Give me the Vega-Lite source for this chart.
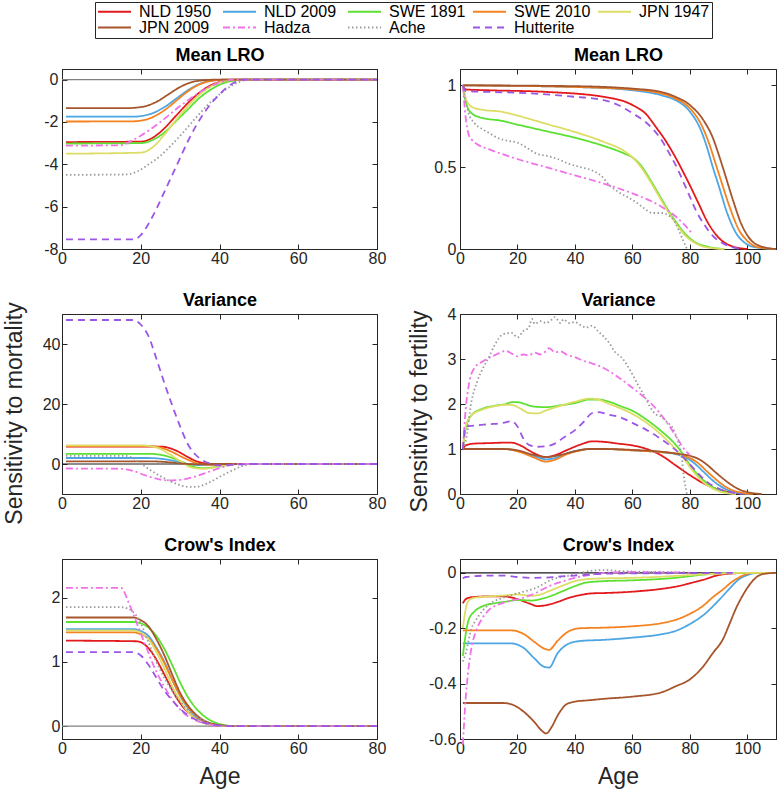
{
"$schema":"https://vega.github.io/schema/vega-lite/v6.json",
"padding":{"left":2,"top":1,"right":0,"bottom":0},
"config":{
"locale":{"number":{"decimal":".","thousands":",","grouping":[3],"currency":["$",""],"minus":"-"}},
"view":{"stroke":"#262626","strokeWidth":1},
"font":"Liberation Sans",
"axis":{"labelFont":"Liberation Sans","labelFontSize":16,"labelColor":"#262626","tickColor":"#262626","domainColor":"#262626","tickSize":-5,"labelPadding":6,"labelFlush":false,"grid":false,"titleFont":"Liberation Sans","titleFontSize":23,"titleFontWeight":"normal","titleColor":"#262626","labelExpr":"'' + datum.value"},
"line":{"strokeWidth":1.8,"interpolate":"monotone","clip":true}
},
"columns":2,
"bounds":"flush",
"spacing":{"row":65,"column":83},
"resolve":{"scale":{"x":"independent","y":"independent","color":"shared","strokeDash":"shared"}},
"datasets":{
"p1":[
{"s":"NLD 1950","a":1,"v":-2.95},{"s":"NLD 1950","a":20,"v":-2.93},{"s":"NLD 1950","a":23,"v":-2.75},{"s":"NLD 1950","a":26,"v":-2.3},{"s":"NLD 1950","a":29,"v":-1.7},{"s":"NLD 1950","a":32,"v":-1.1},{"s":"NLD 1950","a":35,"v":-0.6},{"s":"NLD 1950","a":38,"v":-0.25},{"s":"NLD 1950","a":41,"v":-0.07},{"s":"NLD 1950","a":44,"v":0},{"s":"NLD 1950","a":80,"v":0},
{"s":"NLD 2009","a":1,"v":-1.75},{"s":"NLD 2009","a":18,"v":-1.75},{"s":"NLD 2009","a":22,"v":-1.65},{"s":"NLD 2009","a":26,"v":-1.3},{"s":"NLD 2009","a":29,"v":-0.9},{"s":"NLD 2009","a":32,"v":-0.5},{"s":"NLD 2009","a":35,"v":-0.2},{"s":"NLD 2009","a":38,"v":-0.05},{"s":"NLD 2009","a":42,"v":0},{"s":"NLD 2009","a":80,"v":0},
{"s":"SWE 1891","a":1,"v":-3.02},{"s":"SWE 1891","a":20,"v":-3},{"s":"SWE 1891","a":23,"v":-2.85},{"s":"SWE 1891","a":26,"v":-2.5},{"s":"SWE 1891","a":29,"v":-1.95},{"s":"SWE 1891","a":32,"v":-1.4},{"s":"SWE 1891","a":35,"v":-0.85},{"s":"SWE 1891","a":38,"v":-0.45},{"s":"SWE 1891","a":41,"v":-0.17},{"s":"SWE 1891","a":44,"v":-0.04},{"s":"SWE 1891","a":47,"v":0},{"s":"SWE 1891","a":80,"v":0},
{"s":"SWE 2010","a":1,"v":-1.98},{"s":"SWE 2010","a":18,"v":-1.97},{"s":"SWE 2010","a":22,"v":-1.85},{"s":"SWE 2010","a":26,"v":-1.45},{"s":"SWE 2010","a":29,"v":-1},{"s":"SWE 2010","a":32,"v":-0.55},{"s":"SWE 2010","a":35,"v":-0.22},{"s":"SWE 2010","a":38,"v":-0.06},{"s":"SWE 2010","a":42,"v":0},{"s":"SWE 2010","a":80,"v":0},
{"s":"JPN 1947","a":1,"v":-3.5},{"s":"JPN 1947","a":20,"v":-3.45},{"s":"JPN 1947","a":23,"v":-3.2},{"s":"JPN 1947","a":26,"v":-2.6},{"s":"JPN 1947","a":29,"v":-1.9},{"s":"JPN 1947","a":32,"v":-1.25},{"s":"JPN 1947","a":35,"v":-0.7},{"s":"JPN 1947","a":38,"v":-0.3},{"s":"JPN 1947","a":41,"v":-0.08},{"s":"JPN 1947","a":44,"v":0},{"s":"JPN 1947","a":80,"v":0},
{"s":"JPN 2009","a":1,"v":-1.35},{"s":"JPN 2009","a":16,"v":-1.35},{"s":"JPN 2009","a":20,"v":-1.3},{"s":"JPN 2009","a":24,"v":-1.05},{"s":"JPN 2009","a":27,"v":-0.7},{"s":"JPN 2009","a":30,"v":-0.35},{"s":"JPN 2009","a":33,"v":-0.12},{"s":"JPN 2009","a":36,"v":-0.03},{"s":"JPN 2009","a":40,"v":0},{"s":"JPN 2009","a":80,"v":0},
{"s":"Hadza","a":1,"v":-3.12},{"s":"Hadza","a":15,"v":-3.1},{"s":"Hadza","a":17,"v":-2.95},{"s":"Hadza","a":20,"v":-2.65},{"s":"Hadza","a":25,"v":-2},{"s":"Hadza","a":30,"v":-1.25},{"s":"Hadza","a":35,"v":-0.6},{"s":"Hadza","a":40,"v":-0.15},{"s":"Hadza","a":44,"v":0},{"s":"Hadza","a":80,"v":0},
{"s":"Ache","a":1,"v":-4.5},{"s":"Ache","a":16,"v":-4.48},{"s":"Ache","a":19,"v":-4.35},{"s":"Ache","a":22,"v":-4},{"s":"Ache","a":25,"v":-3.6},{"s":"Ache","a":28,"v":-3.05},{"s":"Ache","a":31,"v":-2.45},{"s":"Ache","a":34,"v":-1.8},{"s":"Ache","a":37,"v":-1.2},{"s":"Ache","a":40,"v":-0.7},{"s":"Ache","a":43,"v":-0.3},{"s":"Ache","a":46,"v":-0.05},{"s":"Ache","a":48,"v":0},{"s":"Ache","a":80,"v":0},
{"s":"Hutterite","a":1,"v":-7.55},{"s":"Hutterite","a":18,"v":-7.55},{"s":"Hutterite","a":20,"v":-7.35},{"s":"Hutterite","a":22,"v":-6.8},{"s":"Hutterite","a":24,"v":-6.1},{"s":"Hutterite","a":26,"v":-5.3},{"s":"Hutterite","a":28,"v":-4.5},{"s":"Hutterite","a":30,"v":-3.7},{"s":"Hutterite","a":32,"v":-2.9},{"s":"Hutterite","a":34,"v":-2.2},{"s":"Hutterite","a":36,"v":-1.6},{"s":"Hutterite","a":38,"v":-1.1},{"s":"Hutterite","a":40,"v":-0.7},{"s":"Hutterite","a":42,"v":-0.35},{"s":"Hutterite","a":44,"v":-0.12},{"s":"Hutterite","a":46,"v":0},{"s":"Hutterite","a":80,"v":0}
],
"p2":[
{"s":"NLD 1950","a":1,"v":1},{"s":"NLD 1950","a":2,"v":0.975},{"s":"NLD 1950","a":10,"v":0.97},{"s":"NLD 1950","a":30,"v":0.96},{"s":"NLD 1950","a":50,"v":0.93},{"s":"NLD 1950","a":60,"v":0.88},{"s":"NLD 1950","a":65,"v":0.82},{"s":"NLD 1950","a":68,"v":0.75},{"s":"NLD 1950","a":72,"v":0.65},{"s":"NLD 1950","a":75,"v":0.56},{"s":"NLD 1950","a":78,"v":0.46},{"s":"NLD 1950","a":80,"v":0.39},{"s":"NLD 1950","a":83,"v":0.28},{"s":"NLD 1950","a":86,"v":0.17},{"s":"NLD 1950","a":90,"v":0.07},{"s":"NLD 1950","a":95,"v":0.015},{"s":"NLD 1950","a":100,"v":0},
{"s":"NLD 2009","a":1,"v":1},{"s":"NLD 2009","a":40,"v":0.99},{"s":"NLD 2009","a":60,"v":0.97},{"s":"NLD 2009","a":70,"v":0.94},{"s":"NLD 2009","a":75,"v":0.91},{"s":"NLD 2009","a":80,"v":0.84},{"s":"NLD 2009","a":84,"v":0.72},{"s":"NLD 2009","a":86,"v":0.62},{"s":"NLD 2009","a":88,"v":0.5},{"s":"NLD 2009","a":90,"v":0.39},{"s":"NLD 2009","a":93,"v":0.22},{"s":"NLD 2009","a":96,"v":0.1},{"s":"NLD 2009","a":99,"v":0.04},{"s":"NLD 2009","a":103,"v":0.01},{"s":"NLD 2009","a":110,"v":0},
{"s":"SWE 1891","a":1,"v":1},{"s":"SWE 1891","a":2,"v":0.9},{"s":"SWE 1891","a":4,"v":0.83},{"s":"SWE 1891","a":8,"v":0.8},{"s":"SWE 1891","a":14,"v":0.785},{"s":"SWE 1891","a":20,"v":0.76},{"s":"SWE 1891","a":30,"v":0.72},{"s":"SWE 1891","a":40,"v":0.68},{"s":"SWE 1891","a":50,"v":0.63},{"s":"SWE 1891","a":57,"v":0.585},{"s":"SWE 1891","a":60,"v":0.56},{"s":"SWE 1891","a":63,"v":0.51},{"s":"SWE 1891","a":66,"v":0.43},{"s":"SWE 1891","a":69,"v":0.34},{"s":"SWE 1891","a":72,"v":0.25},{"s":"SWE 1891","a":75,"v":0.17},{"s":"SWE 1891","a":78,"v":0.1},{"s":"SWE 1891","a":82,"v":0.04},{"s":"SWE 1891","a":86,"v":0.015},{"s":"SWE 1891","a":92,"v":0},
{"s":"SWE 2010","a":1,"v":1},{"s":"SWE 2010","a":40,"v":0.99},{"s":"SWE 2010","a":60,"v":0.975},{"s":"SWE 2010","a":70,"v":0.95},{"s":"SWE 2010","a":75,"v":0.92},{"s":"SWE 2010","a":80,"v":0.86},{"s":"SWE 2010","a":84,"v":0.76},{"s":"SWE 2010","a":87,"v":0.63},{"s":"SWE 2010","a":89,"v":0.52},{"s":"SWE 2010","a":91,"v":0.41},{"s":"SWE 2010","a":94,"v":0.25},{"s":"SWE 2010","a":97,"v":0.12},{"s":"SWE 2010","a":100,"v":0.05},{"s":"SWE 2010","a":104,"v":0.01},{"s":"SWE 2010","a":110,"v":0},
{"s":"JPN 1947","a":1,"v":1},{"s":"JPN 1947","a":2,"v":0.92},{"s":"JPN 1947","a":4,"v":0.87},{"s":"JPN 1947","a":8,"v":0.85},{"s":"JPN 1947","a":14,"v":0.84},{"s":"JPN 1947","a":20,"v":0.815},{"s":"JPN 1947","a":30,"v":0.765},{"s":"JPN 1947","a":40,"v":0.715},{"s":"JPN 1947","a":50,"v":0.655},{"s":"JPN 1947","a":57,"v":0.6},{"s":"JPN 1947","a":60,"v":0.56},{"s":"JPN 1947","a":63,"v":0.5},{"s":"JPN 1947","a":66,"v":0.42},{"s":"JPN 1947","a":69,"v":0.33},{"s":"JPN 1947","a":72,"v":0.24},{"s":"JPN 1947","a":75,"v":0.16},{"s":"JPN 1947","a":78,"v":0.09},{"s":"JPN 1947","a":82,"v":0.035},{"s":"JPN 1947","a":86,"v":0.01},{"s":"JPN 1947","a":92,"v":0},
{"s":"JPN 2009","a":1,"v":1},{"s":"JPN 2009","a":40,"v":0.995},{"s":"JPN 2009","a":60,"v":0.98},{"s":"JPN 2009","a":70,"v":0.96},{"s":"JPN 2009","a":75,"v":0.93},{"s":"JPN 2009","a":80,"v":0.88},{"s":"JPN 2009","a":85,"v":0.78},{"s":"JPN 2009","a":88,"v":0.68},{"s":"JPN 2009","a":90,"v":0.58},{"s":"JPN 2009","a":92,"v":0.47},{"s":"JPN 2009","a":95,"v":0.3},{"s":"JPN 2009","a":98,"v":0.15},{"s":"JPN 2009","a":101,"v":0.06},{"s":"JPN 2009","a":105,"v":0.015},{"s":"JPN 2009","a":110,"v":0},
{"s":"Hadza","a":1,"v":1},{"s":"Hadza","a":2,"v":0.8},{"s":"Hadza","a":3,"v":0.7},{"s":"Hadza","a":4,"v":0.67},{"s":"Hadza","a":6,"v":0.64},{"s":"Hadza","a":10,"v":0.61},{"s":"Hadza","a":20,"v":0.55},{"s":"Hadza","a":30,"v":0.5},{"s":"Hadza","a":40,"v":0.45},{"s":"Hadza","a":50,"v":0.4},{"s":"Hadza","a":60,"v":0.34},{"s":"Hadza","a":70,"v":0.26},{"s":"Hadza","a":75,"v":0.2},{"s":"Hadza","a":78,"v":0.15},{"s":"Hadza","a":81,"v":0.09},
{"s":"Ache","a":1,"v":1},{"s":"Ache","a":2,"v":0.9},{"s":"Ache","a":3,"v":0.83},{"s":"Ache","a":5,"v":0.77},{"s":"Ache","a":8,"v":0.73},{"s":"Ache","a":10,"v":0.71},{"s":"Ache","a":13,"v":0.68},{"s":"Ache","a":17,"v":0.66},{"s":"Ache","a":20,"v":0.65},{"s":"Ache","a":24,"v":0.61},{"s":"Ache","a":27,"v":0.58},{"s":"Ache","a":30,"v":0.57},{"s":"Ache","a":34,"v":0.55},{"s":"Ache","a":38,"v":0.52},{"s":"Ache","a":42,"v":0.5},{"s":"Ache","a":46,"v":0.48},{"s":"Ache","a":49,"v":0.45},{"s":"Ache","a":52,"v":0.39},{"s":"Ache","a":55,"v":0.35},{"s":"Ache","a":58,"v":0.32},{"s":"Ache","a":61,"v":0.29},{"s":"Ache","a":64,"v":0.25},{"s":"Ache","a":67,"v":0.22},{"s":"Ache","a":70,"v":0.22},{"s":"Ache","a":73,"v":0.2},{"s":"Ache","a":75,"v":0.16},{"s":"Ache","a":76,"v":0.12},{"s":"Ache","a":77,"v":0.08},{"s":"Ache","a":78,"v":0.04},{"s":"Ache","a":79,"v":0},
{"s":"Hutterite","a":1,"v":1},{"s":"Hutterite","a":2,"v":0.965},{"s":"Hutterite","a":10,"v":0.96},{"s":"Hutterite","a":20,"v":0.955},{"s":"Hutterite","a":30,"v":0.945},{"s":"Hutterite","a":40,"v":0.93},{"s":"Hutterite","a":50,"v":0.91},{"s":"Hutterite","a":55,"v":0.88},{"s":"Hutterite","a":60,"v":0.83},{"s":"Hutterite","a":65,"v":0.77},{"s":"Hutterite","a":70,"v":0.67},{"s":"Hutterite","a":73,"v":0.58},{"s":"Hutterite","a":76,"v":0.48},{"s":"Hutterite","a":78,"v":0.4},{"s":"Hutterite","a":80,"v":0.32},{"s":"Hutterite","a":82,"v":0.24},{"s":"Hutterite","a":85,"v":0.15},{"s":"Hutterite","a":88,"v":0.08},{"s":"Hutterite","a":91,"v":0.04},{"s":"Hutterite","a":94,"v":0.015},{"s":"Hutterite","a":98,"v":0}
],
"p3":[
{"s":"NLD 1950","a":1,"v":5.8},{"s":"NLD 1950","a":25,"v":5.8},{"s":"NLD 1950","a":28,"v":5},{"s":"NLD 1950","a":30,"v":3.8},{"s":"NLD 1950","a":32,"v":2.3},{"s":"NLD 1950","a":34,"v":1},{"s":"NLD 1950","a":36,"v":0.3},{"s":"NLD 1950","a":38,"v":0},{"s":"NLD 1950","a":80,"v":0},
{"s":"NLD 2009","a":1,"v":2},{"s":"NLD 2009","a":22,"v":2},{"s":"NLD 2009","a":26,"v":1.6},{"s":"NLD 2009","a":30,"v":0.6},{"s":"NLD 2009","a":33,"v":-0.2},{"s":"NLD 2009","a":36,"v":-0.4},{"s":"NLD 2009","a":40,"v":-0.2},{"s":"NLD 2009","a":44,"v":0},{"s":"NLD 2009","a":80,"v":0},
{"s":"SWE 1891","a":1,"v":3.4},{"s":"SWE 1891","a":22,"v":3.4},{"s":"SWE 1891","a":26,"v":2.8},{"s":"SWE 1891","a":30,"v":1},{"s":"SWE 1891","a":33,"v":-0.8},{"s":"SWE 1891","a":36,"v":-1.4},{"s":"SWE 1891","a":39,"v":-1},{"s":"SWE 1891","a":42,"v":-0.4},{"s":"SWE 1891","a":45,"v":0},{"s":"SWE 1891","a":80,"v":0},
{"s":"SWE 2010","a":1,"v":6},{"s":"SWE 2010","a":22,"v":6},{"s":"SWE 2010","a":25,"v":5.5},{"s":"SWE 2010","a":28,"v":4},{"s":"SWE 2010","a":31,"v":2},{"s":"SWE 2010","a":34,"v":0.4},{"s":"SWE 2010","a":37,"v":-0.3},{"s":"SWE 2010","a":40,"v":-0.2},{"s":"SWE 2010","a":44,"v":0},{"s":"SWE 2010","a":80,"v":0},
{"s":"JPN 1947","a":1,"v":6.2},{"s":"JPN 1947","a":20,"v":6.2},{"s":"JPN 1947","a":24,"v":5.5},{"s":"JPN 1947","a":27,"v":3.5},{"s":"JPN 1947","a":30,"v":1},{"s":"JPN 1947","a":33,"v":-1.2},{"s":"JPN 1947","a":36,"v":-1.6},{"s":"JPN 1947","a":39,"v":-1},{"s":"JPN 1947","a":42,"v":-0.3},{"s":"JPN 1947","a":45,"v":0},{"s":"JPN 1947","a":80,"v":0},
{"s":"JPN 2009","a":1,"v":0.9},{"s":"JPN 2009","a":22,"v":0.9},{"s":"JPN 2009","a":26,"v":0.7},{"s":"JPN 2009","a":30,"v":0.2},{"s":"JPN 2009","a":34,"v":-0.1},{"s":"JPN 2009","a":38,"v":0},{"s":"JPN 2009","a":80,"v":0},
{"s":"Hadza","a":1,"v":-1.5},{"s":"Hadza","a":15,"v":-1.6},{"s":"Hadza","a":18,"v":-2.3},{"s":"Hadza","a":21,"v":-3.7},{"s":"Hadza","a":24,"v":-4.9},{"s":"Hadza","a":27,"v":-5.5},{"s":"Hadza","a":30,"v":-5.3},{"s":"Hadza","a":33,"v":-4.5},{"s":"Hadza","a":36,"v":-3.2},{"s":"Hadza","a":39,"v":-1.8},{"s":"Hadza","a":42,"v":-0.6},{"s":"Hadza","a":45,"v":0},{"s":"Hadza","a":80,"v":0},
{"s":"Ache","a":1,"v":2.7},{"s":"Ache","a":16,"v":2.7},{"s":"Ache","a":18,"v":2},{"s":"Ache","a":20,"v":0.2},{"s":"Ache","a":23,"v":-2.5},{"s":"Ache","a":26,"v":-4.8},{"s":"Ache","a":29,"v":-6.6},{"s":"Ache","a":32,"v":-7.6},{"s":"Ache","a":34,"v":-7.6},{"s":"Ache","a":37,"v":-6.4},{"s":"Ache","a":40,"v":-4.3},{"s":"Ache","a":43,"v":-2.3},{"s":"Ache","a":46,"v":-0.6},{"s":"Ache","a":49,"v":0},{"s":"Ache","a":80,"v":0},
{"s":"Hutterite","a":1,"v":48},{"s":"Hutterite","a":18,"v":48},{"s":"Hutterite","a":20,"v":46.5},{"s":"Hutterite","a":22,"v":42.5},{"s":"Hutterite","a":24,"v":35},{"s":"Hutterite","a":26,"v":27},{"s":"Hutterite","a":28,"v":19.5},{"s":"Hutterite","a":30,"v":12.5},{"s":"Hutterite","a":32,"v":6.5},{"s":"Hutterite","a":34,"v":3},{"s":"Hutterite","a":36,"v":1},{"s":"Hutterite","a":38,"v":0},{"s":"Hutterite","a":40,"v":-0.5},{"s":"Hutterite","a":43,"v":-0.3},{"s":"Hutterite","a":48,"v":0},{"s":"Hutterite","a":80,"v":0}
],
"p4":[
{"s":"NLD 1950","a":1,"v":1},{"s":"NLD 1950","a":2,"v":1.08},{"s":"NLD 1950","a":5,"v":1.12},{"s":"NLD 1950","a":10,"v":1.13},{"s":"NLD 1950","a":15,"v":1.14},{"s":"NLD 1950","a":18,"v":1.14},{"s":"NLD 1950","a":21,"v":1.08},{"s":"NLD 1950","a":24,"v":0.97},{"s":"NLD 1950","a":27,"v":0.87},{"s":"NLD 1950","a":30,"v":0.82},{"s":"NLD 1950","a":33,"v":0.86},{"s":"NLD 1950","a":37,"v":0.97},{"s":"NLD 1950","a":42,"v":1.1},{"s":"NLD 1950","a":46,"v":1.17},{"s":"NLD 1950","a":50,"v":1.16},{"s":"NLD 1950","a":55,"v":1.12},{"s":"NLD 1950","a":60,"v":1.08},{"s":"NLD 1950","a":65,"v":1},{"s":"NLD 1950","a":70,"v":0.86},{"s":"NLD 1950","a":75,"v":0.64},{"s":"NLD 1950","a":80,"v":0.42},{"s":"NLD 1950","a":85,"v":0.23},{"s":"NLD 1950","a":90,"v":0.1},{"s":"NLD 1950","a":95,"v":0.03},{"s":"NLD 1950","a":100,"v":0},
{"s":"NLD 2009","a":1,"v":1},{"s":"NLD 2009","a":15,"v":1},{"s":"NLD 2009","a":20,"v":0.96},{"s":"NLD 2009","a":25,"v":0.86},{"s":"NLD 2009","a":30,"v":0.77},{"s":"NLD 2009","a":33,"v":0.8},{"s":"NLD 2009","a":37,"v":0.9},{"s":"NLD 2009","a":42,"v":0.98},{"s":"NLD 2009","a":45,"v":1},{"s":"NLD 2009","a":50,"v":1},{"s":"NLD 2009","a":60,"v":0.97},{"s":"NLD 2009","a":70,"v":0.93},{"s":"NLD 2009","a":75,"v":0.89},{"s":"NLD 2009","a":79,"v":0.8},{"s":"NLD 2009","a":82,"v":0.66},{"s":"NLD 2009","a":85,"v":0.48},{"s":"NLD 2009","a":88,"v":0.3},{"s":"NLD 2009","a":91,"v":0.16},{"s":"NLD 2009","a":94,"v":0.07},{"s":"NLD 2009","a":97,"v":0.02},{"s":"NLD 2009","a":101,"v":0},
{"s":"SWE 1891","a":1,"v":1},{"s":"SWE 1891","a":2,"v":1.45},{"s":"SWE 1891","a":4,"v":1.75},{"s":"SWE 1891","a":8,"v":1.9},{"s":"SWE 1891","a":12,"v":1.96},{"s":"SWE 1891","a":16,"v":2},{"s":"SWE 1891","a":18,"v":2.04},{"s":"SWE 1891","a":20,"v":2.04},{"s":"SWE 1891","a":23,"v":1.99},{"s":"SWE 1891","a":26,"v":1.94},{"s":"SWE 1891","a":30,"v":1.93},{"s":"SWE 1891","a":35,"v":1.97},{"s":"SWE 1891","a":40,"v":2.02},{"s":"SWE 1891","a":45,"v":2.1},{"s":"SWE 1891","a":48,"v":2.1},{"s":"SWE 1891","a":52,"v":2.05},{"s":"SWE 1891","a":56,"v":1.95},{"s":"SWE 1891","a":60,"v":1.85},{"s":"SWE 1891","a":65,"v":1.65},{"s":"SWE 1891","a":70,"v":1.4},{"s":"SWE 1891","a":75,"v":1.1},{"s":"SWE 1891","a":78,"v":0.85},{"s":"SWE 1891","a":80,"v":0.65},{"s":"SWE 1891","a":84,"v":0.35},{"s":"SWE 1891","a":88,"v":0.15},{"s":"SWE 1891","a":92,"v":0.05},{"s":"SWE 1891","a":96,"v":0},
{"s":"SWE 2010","a":1,"v":1},{"s":"SWE 2010","a":15,"v":1},{"s":"SWE 2010","a":20,"v":0.95},{"s":"SWE 2010","a":25,"v":0.83},{"s":"SWE 2010","a":30,"v":0.72},{"s":"SWE 2010","a":33,"v":0.76},{"s":"SWE 2010","a":37,"v":0.88},{"s":"SWE 2010","a":42,"v":0.97},{"s":"SWE 2010","a":45,"v":1},{"s":"SWE 2010","a":50,"v":1},{"s":"SWE 2010","a":60,"v":0.97},{"s":"SWE 2010","a":70,"v":0.93},{"s":"SWE 2010","a":75,"v":0.9},{"s":"SWE 2010","a":79,"v":0.83},{"s":"SWE 2010","a":83,"v":0.68},{"s":"SWE 2010","a":86,"v":0.5},{"s":"SWE 2010","a":89,"v":0.33},{"s":"SWE 2010","a":92,"v":0.18},{"s":"SWE 2010","a":95,"v":0.08},{"s":"SWE 2010","a":98,"v":0.03},{"s":"SWE 2010","a":102,"v":0},
{"s":"JPN 1947","a":1,"v":1},{"s":"JPN 1947","a":2,"v":1.5},{"s":"JPN 1947","a":4,"v":1.75},{"s":"JPN 1947","a":8,"v":1.88},{"s":"JPN 1947","a":12,"v":1.95},{"s":"JPN 1947","a":16,"v":1.98},{"s":"JPN 1947","a":18,"v":1.98},{"s":"JPN 1947","a":21,"v":1.9},{"s":"JPN 1947","a":24,"v":1.8},{"s":"JPN 1947","a":27,"v":1.79},{"s":"JPN 1947","a":30,"v":1.86},{"s":"JPN 1947","a":35,"v":1.96},{"s":"JPN 1947","a":40,"v":2.05},{"s":"JPN 1947","a":45,"v":2.12},{"s":"JPN 1947","a":48,"v":2.1},{"s":"JPN 1947","a":52,"v":2},{"s":"JPN 1947","a":56,"v":1.9},{"s":"JPN 1947","a":60,"v":1.78},{"s":"JPN 1947","a":65,"v":1.58},{"s":"JPN 1947","a":70,"v":1.32},{"s":"JPN 1947","a":75,"v":1},{"s":"JPN 1947","a":78,"v":0.78},{"s":"JPN 1947","a":80,"v":0.6},{"s":"JPN 1947","a":84,"v":0.3},{"s":"JPN 1947","a":88,"v":0.12},{"s":"JPN 1947","a":92,"v":0.03},{"s":"JPN 1947","a":96,"v":0},
{"s":"JPN 2009","a":1,"v":1},{"s":"JPN 2009","a":15,"v":1},{"s":"JPN 2009","a":20,"v":0.97},{"s":"JPN 2009","a":25,"v":0.88},{"s":"JPN 2009","a":30,"v":0.82},{"s":"JPN 2009","a":35,"v":0.87},{"s":"JPN 2009","a":40,"v":0.95},{"s":"JPN 2009","a":45,"v":1},{"s":"JPN 2009","a":50,"v":1},{"s":"JPN 2009","a":60,"v":0.98},{"s":"JPN 2009","a":70,"v":0.94},{"s":"JPN 2009","a":75,"v":0.9},{"s":"JPN 2009","a":80,"v":0.85},{"s":"JPN 2009","a":83,"v":0.78},{"s":"JPN 2009","a":86,"v":0.65},{"s":"JPN 2009","a":89,"v":0.48},{"s":"JPN 2009","a":92,"v":0.32},{"s":"JPN 2009","a":95,"v":0.18},{"s":"JPN 2009","a":98,"v":0.08},{"s":"JPN 2009","a":101,"v":0.03},{"s":"JPN 2009","a":105,"v":0},
{"s":"Hadza","a":1,"v":1},{"s":"Hadza","a":2,"v":1.9},{"s":"Hadza","a":3,"v":2.4},{"s":"Hadza","a":5,"v":2.8},{"s":"Hadza","a":8,"v":2.95},{"s":"Hadza","a":12,"v":3.08},{"s":"Hadza","a":16,"v":3.18},{"s":"Hadza","a":18,"v":3.12},{"s":"Hadza","a":20,"v":3.06},{"s":"Hadza","a":22,"v":3.1},{"s":"Hadza","a":24,"v":3.08},{"s":"Hadza","a":26,"v":3.14},{"s":"Hadza","a":28,"v":3.1},{"s":"Hadza","a":30,"v":3.18},{"s":"Hadza","a":31,"v":3.24},{"s":"Hadza","a":33,"v":3.15},{"s":"Hadza","a":35,"v":3.17},{"s":"Hadza","a":37,"v":3.1},{"s":"Hadza","a":40,"v":3.04},{"s":"Hadza","a":43,"v":2.96},{"s":"Hadza","a":46,"v":2.9},{"s":"Hadza","a":50,"v":2.8},{"s":"Hadza","a":55,"v":2.6},{"s":"Hadza","a":60,"v":2.36},{"s":"Hadza","a":65,"v":2.1},{"s":"Hadza","a":69,"v":1.84},{"s":"Hadza","a":73,"v":1.5},{"s":"Hadza","a":76,"v":1.2},{"s":"Hadza","a":78,"v":1},{"s":"Hadza","a":80,"v":0.87},
{"s":"Ache","a":1,"v":1},{"s":"Ache","a":2,"v":1.17},{"s":"Ache","a":4,"v":2.06},{"s":"Ache","a":6,"v":2.5},{"s":"Ache","a":8,"v":2.8},{"s":"Ache","a":10,"v":3.03},{"s":"Ache","a":12,"v":3.3},{"s":"Ache","a":15,"v":3.55},{"s":"Ache","a":18,"v":3.58},{"s":"Ache","a":20,"v":3.48},{"s":"Ache","a":22,"v":3.62},{"s":"Ache","a":24,"v":3.7},{"s":"Ache","a":25,"v":3.89},{"s":"Ache","a":26,"v":3.78},{"s":"Ache","a":28,"v":3.84},{"s":"Ache","a":30,"v":3.8},{"s":"Ache","a":32,"v":3.88},{"s":"Ache","a":33,"v":3.93},{"s":"Ache","a":35,"v":3.8},{"s":"Ache","a":36,"v":3.88},{"s":"Ache","a":38,"v":3.8},{"s":"Ache","a":40,"v":3.82},{"s":"Ache","a":42,"v":3.75},{"s":"Ache","a":44,"v":3.7},{"s":"Ache","a":46,"v":3.74},{"s":"Ache","a":48,"v":3.62},{"s":"Ache","a":50,"v":3.5},{"s":"Ache","a":52,"v":3.35},{"s":"Ache","a":54,"v":3.15},{"s":"Ache","a":56,"v":3.05},{"s":"Ache","a":58,"v":2.88},{"s":"Ache","a":60,"v":2.66},{"s":"Ache","a":62,"v":2.42},{"s":"Ache","a":64,"v":2.2},{"s":"Ache","a":66,"v":1.95},{"s":"Ache","a":68,"v":1.78},{"s":"Ache","a":70,"v":1.72},{"s":"Ache","a":72,"v":1.6},{"s":"Ache","a":74,"v":1.47},{"s":"Ache","a":76,"v":1.15},{"s":"Ache","a":77,"v":0.9},{"s":"Ache","a":78,"v":0.35},{"s":"Ache","a":79,"v":0},
{"s":"Hutterite","a":1,"v":1},{"s":"Hutterite","a":2,"v":1.5},{"s":"Hutterite","a":5,"v":1.52},{"s":"Hutterite","a":10,"v":1.55},{"s":"Hutterite","a":15,"v":1.58},{"s":"Hutterite","a":18,"v":1.62},{"s":"Hutterite","a":20,"v":1.5},{"s":"Hutterite","a":22,"v":1.24},{"s":"Hutterite","a":24,"v":1.09},{"s":"Hutterite","a":27,"v":1.05},{"s":"Hutterite","a":30,"v":1.06},{"s":"Hutterite","a":33,"v":1.12},{"s":"Hutterite","a":36,"v":1.25},{"s":"Hutterite","a":40,"v":1.42},{"s":"Hutterite","a":43,"v":1.6},{"s":"Hutterite","a":46,"v":1.8},{"s":"Hutterite","a":48,"v":1.82},{"s":"Hutterite","a":52,"v":1.76},{"s":"Hutterite","a":56,"v":1.7},{"s":"Hutterite","a":60,"v":1.58},{"s":"Hutterite","a":65,"v":1.42},{"s":"Hutterite","a":70,"v":1.22},{"s":"Hutterite","a":75,"v":0.98},{"s":"Hutterite","a":78,"v":0.8},{"s":"Hutterite","a":82,"v":0.52},{"s":"Hutterite","a":86,"v":0.27},{"s":"Hutterite","a":90,"v":0.12},{"s":"Hutterite","a":94,"v":0.04},{"s":"Hutterite","a":98,"v":0}
],
"p5":[
{"s":"NLD 1950","a":1,"v":1.33},{"s":"NLD 1950","a":19,"v":1.32},{"s":"NLD 1950","a":21,"v":1.27},{"s":"NLD 1950","a":23,"v":1.13},{"s":"NLD 1950","a":25,"v":0.92},{"s":"NLD 1950","a":27,"v":0.68},{"s":"NLD 1950","a":29,"v":0.45},{"s":"NLD 1950","a":31,"v":0.28},{"s":"NLD 1950","a":33,"v":0.16},{"s":"NLD 1950","a":35,"v":0.08},{"s":"NLD 1950","a":38,"v":0.02},{"s":"NLD 1950","a":41,"v":0},{"s":"NLD 1950","a":80,"v":0},
{"s":"NLD 2009","a":1,"v":1.51},{"s":"NLD 2009","a":18,"v":1.51},{"s":"NLD 2009","a":20,"v":1.48},{"s":"NLD 2009","a":22,"v":1.4},{"s":"NLD 2009","a":24,"v":1.22},{"s":"NLD 2009","a":26,"v":1},{"s":"NLD 2009","a":28,"v":0.72},{"s":"NLD 2009","a":30,"v":0.47},{"s":"NLD 2009","a":32,"v":0.28},{"s":"NLD 2009","a":34,"v":0.15},{"s":"NLD 2009","a":36,"v":0.07},{"s":"NLD 2009","a":39,"v":0.02},{"s":"NLD 2009","a":42,"v":0},{"s":"NLD 2009","a":80,"v":0},
{"s":"SWE 1891","a":1,"v":1.62},{"s":"SWE 1891","a":18,"v":1.62},{"s":"SWE 1891","a":20,"v":1.6},{"s":"SWE 1891","a":22,"v":1.53},{"s":"SWE 1891","a":24,"v":1.4},{"s":"SWE 1891","a":26,"v":1.2},{"s":"SWE 1891","a":28,"v":0.95},{"s":"SWE 1891","a":30,"v":0.68},{"s":"SWE 1891","a":32,"v":0.45},{"s":"SWE 1891","a":34,"v":0.28},{"s":"SWE 1891","a":36,"v":0.16},{"s":"SWE 1891","a":38,"v":0.08},{"s":"SWE 1891","a":41,"v":0.02},{"s":"SWE 1891","a":44,"v":0},{"s":"SWE 1891","a":80,"v":0},
{"s":"SWE 2010","a":1,"v":1.46},{"s":"SWE 2010","a":18,"v":1.46},{"s":"SWE 2010","a":20,"v":1.43},{"s":"SWE 2010","a":22,"v":1.36},{"s":"SWE 2010","a":24,"v":1.2},{"s":"SWE 2010","a":26,"v":0.98},{"s":"SWE 2010","a":28,"v":0.72},{"s":"SWE 2010","a":30,"v":0.48},{"s":"SWE 2010","a":32,"v":0.3},{"s":"SWE 2010","a":34,"v":0.17},{"s":"SWE 2010","a":36,"v":0.08},{"s":"SWE 2010","a":39,"v":0.02},{"s":"SWE 2010","a":42,"v":0},{"s":"SWE 2010","a":80,"v":0},
{"s":"JPN 1947","a":1,"v":1.49},{"s":"JPN 1947","a":18,"v":1.49},{"s":"JPN 1947","a":20,"v":1.45},{"s":"JPN 1947","a":22,"v":1.35},{"s":"JPN 1947","a":24,"v":1.15},{"s":"JPN 1947","a":26,"v":0.9},{"s":"JPN 1947","a":28,"v":0.62},{"s":"JPN 1947","a":30,"v":0.4},{"s":"JPN 1947","a":32,"v":0.22},{"s":"JPN 1947","a":34,"v":0.11},{"s":"JPN 1947","a":36,"v":0.05},{"s":"JPN 1947","a":39,"v":0.01},{"s":"JPN 1947","a":42,"v":0},{"s":"JPN 1947","a":80,"v":0},
{"s":"JPN 2009","a":1,"v":1.69},{"s":"JPN 2009","a":18,"v":1.69},{"s":"JPN 2009","a":20,"v":1.65},{"s":"JPN 2009","a":22,"v":1.55},{"s":"JPN 2009","a":24,"v":1.35},{"s":"JPN 2009","a":26,"v":1.1},{"s":"JPN 2009","a":28,"v":0.8},{"s":"JPN 2009","a":30,"v":0.52},{"s":"JPN 2009","a":32,"v":0.32},{"s":"JPN 2009","a":34,"v":0.18},{"s":"JPN 2009","a":36,"v":0.09},{"s":"JPN 2009","a":38,"v":0.04},{"s":"JPN 2009","a":41,"v":0.01},{"s":"JPN 2009","a":44,"v":0},{"s":"JPN 2009","a":80,"v":0},
{"s":"Hadza","a":1,"v":2.15},{"s":"Hadza","a":15,"v":2.15},{"s":"Hadza","a":17,"v":1.91},{"s":"Hadza","a":19,"v":1.6},{"s":"Hadza","a":21,"v":1.29},{"s":"Hadza","a":23,"v":0.98},{"s":"Hadza","a":25,"v":0.72},{"s":"Hadza","a":27,"v":0.51},{"s":"Hadza","a":29,"v":0.33},{"s":"Hadza","a":31,"v":0.2},{"s":"Hadza","a":34,"v":0.09},{"s":"Hadza","a":37,"v":0.03},{"s":"Hadza","a":40,"v":0},{"s":"Hadza","a":80,"v":0},
{"s":"Ache","a":1,"v":1.85},{"s":"Ache","a":15,"v":1.85},{"s":"Ache","a":18,"v":1.78},{"s":"Ache","a":20,"v":1.6},{"s":"Ache","a":22,"v":1.3},{"s":"Ache","a":24,"v":1},{"s":"Ache","a":26,"v":0.75},{"s":"Ache","a":28,"v":0.55},{"s":"Ache","a":30,"v":0.38},{"s":"Ache","a":32,"v":0.25},{"s":"Ache","a":35,"v":0.12},{"s":"Ache","a":38,"v":0.04},{"s":"Ache","a":42,"v":0},{"s":"Ache","a":80,"v":0},
{"s":"Hutterite","a":1,"v":1.15},{"s":"Hutterite","a":18,"v":1.15},{"s":"Hutterite","a":20,"v":1.1},{"s":"Hutterite","a":22,"v":0.95},{"s":"Hutterite","a":24,"v":0.75},{"s":"Hutterite","a":26,"v":0.55},{"s":"Hutterite","a":28,"v":0.4},{"s":"Hutterite","a":30,"v":0.27},{"s":"Hutterite","a":32,"v":0.17},{"s":"Hutterite","a":34,"v":0.1},{"s":"Hutterite","a":37,"v":0.04},{"s":"Hutterite","a":40,"v":0.01},{"s":"Hutterite","a":44,"v":0},{"s":"Hutterite","a":80,"v":0}
],
"p6":[
{"s":"NLD 1950","a":1,"v":-0.11},{"s":"NLD 1950","a":2,"v":-0.095},{"s":"NLD 1950","a":4,"v":-0.088},{"s":"NLD 1950","a":10,"v":-0.085},{"s":"NLD 1950","a":15,"v":-0.085},{"s":"NLD 1950","a":20,"v":-0.095},{"s":"NLD 1950","a":24,"v":-0.11},{"s":"NLD 1950","a":27,"v":-0.12},{"s":"NLD 1950","a":30,"v":-0.117},{"s":"NLD 1950","a":34,"v":-0.105},{"s":"NLD 1950","a":38,"v":-0.09},{"s":"NLD 1950","a":42,"v":-0.08},{"s":"NLD 1950","a":46,"v":-0.074},{"s":"NLD 1950","a":50,"v":-0.073},{"s":"NLD 1950","a":60,"v":-0.068},{"s":"NLD 1950","a":70,"v":-0.058},{"s":"NLD 1950","a":76,"v":-0.048},{"s":"NLD 1950","a":80,"v":-0.038},{"s":"NLD 1950","a":85,"v":-0.024},{"s":"NLD 1950","a":90,"v":-0.008},{"s":"NLD 1950","a":95,"v":-0.002},{"s":"NLD 1950","a":100,"v":0},{"s":"NLD 1950","a":110,"v":0},
{"s":"NLD 2009","a":1,"v":-0.255},{"s":"NLD 2009","a":18,"v":-0.255},{"s":"NLD 2009","a":22,"v":-0.27},{"s":"NLD 2009","a":26,"v":-0.31},{"s":"NLD 2009","a":29,"v":-0.338},{"s":"NLD 2009","a":31,"v":-0.342},{"s":"NLD 2009","a":34,"v":-0.29},{"s":"NLD 2009","a":38,"v":-0.255},{"s":"NLD 2009","a":42,"v":-0.246},{"s":"NLD 2009","a":50,"v":-0.242},{"s":"NLD 2009","a":60,"v":-0.234},{"s":"NLD 2009","a":70,"v":-0.222},{"s":"NLD 2009","a":75,"v":-0.21},{"s":"NLD 2009","a":80,"v":-0.185},{"s":"NLD 2009","a":85,"v":-0.15},{"s":"NLD 2009","a":90,"v":-0.1},{"s":"NLD 2009","a":94,"v":-0.055},{"s":"NLD 2009","a":97,"v":-0.024},{"s":"NLD 2009","a":100,"v":-0.008},{"s":"NLD 2009","a":104,"v":0},{"s":"NLD 2009","a":110,"v":0},
{"s":"SWE 1891","a":1,"v":-0.3},{"s":"SWE 1891","a":2,"v":-0.22},{"s":"SWE 1891","a":3,"v":-0.17},{"s":"SWE 1891","a":5,"v":-0.14},{"s":"SWE 1891","a":8,"v":-0.12},{"s":"SWE 1891","a":12,"v":-0.11},{"s":"SWE 1891","a":16,"v":-0.104},{"s":"SWE 1891","a":20,"v":-0.098},{"s":"SWE 1891","a":25,"v":-0.1},{"s":"SWE 1891","a":28,"v":-0.095},{"s":"SWE 1891","a":32,"v":-0.082},{"s":"SWE 1891","a":36,"v":-0.065},{"s":"SWE 1891","a":40,"v":-0.048},{"s":"SWE 1891","a":44,"v":-0.035},{"s":"SWE 1891","a":50,"v":-0.03},{"s":"SWE 1891","a":60,"v":-0.027},{"s":"SWE 1891","a":70,"v":-0.022},{"s":"SWE 1891","a":75,"v":-0.018},{"s":"SWE 1891","a":80,"v":-0.012},{"s":"SWE 1891","a":85,"v":-0.006},{"s":"SWE 1891","a":90,"v":-0.002},{"s":"SWE 1891","a":95,"v":0},{"s":"SWE 1891","a":110,"v":0},
{"s":"SWE 2010","a":1,"v":-0.208},{"s":"SWE 2010","a":18,"v":-0.208},{"s":"SWE 2010","a":22,"v":-0.22},{"s":"SWE 2010","a":26,"v":-0.25},{"s":"SWE 2010","a":29,"v":-0.272},{"s":"SWE 2010","a":31,"v":-0.278},{"s":"SWE 2010","a":34,"v":-0.245},{"s":"SWE 2010","a":38,"v":-0.21},{"s":"SWE 2010","a":42,"v":-0.2},{"s":"SWE 2010","a":50,"v":-0.198},{"s":"SWE 2010","a":60,"v":-0.193},{"s":"SWE 2010","a":70,"v":-0.182},{"s":"SWE 2010","a":75,"v":-0.17},{"s":"SWE 2010","a":80,"v":-0.148},{"s":"SWE 2010","a":84.5,"v":-0.12},{"s":"SWE 2010","a":88,"v":-0.088},{"s":"SWE 2010","a":91.5,"v":-0.06},{"s":"SWE 2010","a":95,"v":-0.03},{"s":"SWE 2010","a":98,"v":-0.012},{"s":"SWE 2010","a":102,"v":0},{"s":"SWE 2010","a":110,"v":0},
{"s":"JPN 1947","a":1,"v":-0.2},{"s":"JPN 1947","a":2,"v":-0.13},{"s":"JPN 1947","a":3,"v":-0.1},{"s":"JPN 1947","a":5,"v":-0.09},{"s":"JPN 1947","a":10,"v":-0.085},{"s":"JPN 1947","a":15,"v":-0.082},{"s":"JPN 1947","a":20,"v":-0.078},{"s":"JPN 1947","a":25,"v":-0.083},{"s":"JPN 1947","a":28,"v":-0.078},{"s":"JPN 1947","a":31,"v":-0.066},{"s":"JPN 1947","a":36,"v":-0.045},{"s":"JPN 1947","a":40,"v":-0.03},{"s":"JPN 1947","a":45,"v":-0.022},{"s":"JPN 1947","a":50,"v":-0.02},{"s":"JPN 1947","a":60,"v":-0.018},{"s":"JPN 1947","a":70,"v":-0.014},{"s":"JPN 1947","a":80,"v":-0.008},{"s":"JPN 1947","a":90,"v":-0.003},{"s":"JPN 1947","a":100,"v":0},{"s":"JPN 1947","a":110,"v":0},
{"s":"JPN 2009","a":1,"v":-0.47},{"s":"JPN 2009","a":15,"v":-0.47},{"s":"JPN 2009","a":18,"v":-0.475},{"s":"JPN 2009","a":22,"v":-0.5},{"s":"JPN 2009","a":26,"v":-0.54},{"s":"JPN 2009","a":28,"v":-0.565},{"s":"JPN 2009","a":30,"v":-0.58},{"s":"JPN 2009","a":32,"v":-0.555},{"s":"JPN 2009","a":34,"v":-0.515},{"s":"JPN 2009","a":37,"v":-0.475},{"s":"JPN 2009","a":40,"v":-0.465},{"s":"JPN 2009","a":45,"v":-0.46},{"s":"JPN 2009","a":50,"v":-0.455},{"s":"JPN 2009","a":60,"v":-0.447},{"s":"JPN 2009","a":70,"v":-0.432},{"s":"JPN 2009","a":75,"v":-0.41},{"s":"JPN 2009","a":80,"v":-0.385},{"s":"JPN 2009","a":84.5,"v":-0.34},{"s":"JPN 2009","a":88,"v":-0.29},{"s":"JPN 2009","a":91.5,"v":-0.24},{"s":"JPN 2009","a":94,"v":-0.18},{"s":"JPN 2009","a":96,"v":-0.13},{"s":"JPN 2009","a":98.5,"v":-0.08},{"s":"JPN 2009","a":101,"v":-0.04},{"s":"JPN 2009","a":104,"v":-0.01},{"s":"JPN 2009","a":107,"v":-0.002},{"s":"JPN 2009","a":110,"v":0},
{"s":"Hadza","a":1,"v":-0.62},{"s":"Hadza","a":2,"v":-0.45},{"s":"Hadza","a":2.7,"v":-0.37},{"s":"Hadza","a":4,"v":-0.27},{"s":"Hadza","a":5.6,"v":-0.21},{"s":"Hadza","a":8,"v":-0.16},{"s":"Hadza","a":10,"v":-0.135},{"s":"Hadza","a":14,"v":-0.112},{"s":"Hadza","a":18,"v":-0.1},{"s":"Hadza","a":22,"v":-0.09},{"s":"Hadza","a":26.5,"v":-0.072},{"s":"Hadza","a":31,"v":-0.048},{"s":"Hadza","a":36,"v":-0.03},{"s":"Hadza","a":40,"v":-0.018},{"s":"Hadza","a":45,"v":-0.008},{"s":"Hadza","a":50,"v":0},{"s":"Hadza","a":60,"v":0.003},{"s":"Hadza","a":70,"v":0.002},{"s":"Hadza","a":80,"v":0.001},
{"s":"Ache","a":1,"v":-0.32},{"s":"Ache","a":2,"v":-0.29},{"s":"Ache","a":4,"v":-0.2},{"s":"Ache","a":5.6,"v":-0.17},{"s":"Ache","a":8,"v":-0.135},{"s":"Ache","a":10,"v":-0.115},{"s":"Ache","a":15,"v":-0.09},{"s":"Ache","a":20.7,"v":-0.072},{"s":"Ache","a":26.5,"v":-0.054},{"s":"Ache","a":32,"v":-0.024},{"s":"Ache","a":38,"v":-0.01},{"s":"Ache","a":42,"v":0},{"s":"Ache","a":46,"v":0.008},{"s":"Ache","a":50,"v":0.01},{"s":"Ache","a":55,"v":0.007},{"s":"Ache","a":60,"v":0.005},{"s":"Ache","a":70,"v":0.003},{"s":"Ache","a":79,"v":0.001},
{"s":"Hutterite","a":1,"v":-0.02},{"s":"Hutterite","a":2,"v":-0.015},{"s":"Hutterite","a":10,"v":-0.01},{"s":"Hutterite","a":15,"v":-0.01},{"s":"Hutterite","a":20,"v":-0.015},{"s":"Hutterite","a":25,"v":-0.018},{"s":"Hutterite","a":30,"v":-0.017},{"s":"Hutterite","a":35,"v":-0.013},{"s":"Hutterite","a":40,"v":-0.01},{"s":"Hutterite","a":45,"v":-0.006},{"s":"Hutterite","a":50,"v":-0.003},{"s":"Hutterite","a":60,"v":-0.002},{"s":"Hutterite","a":80,"v":-0.001},{"s":"Hutterite","a":95,"v":0}
]
},
"concat":[
{"width":315,"height":180,"layer":[
{"data":{"values":[{"x0":0,"x1":80,"y0":0}]},"mark":{"type":"rule","color":"#808080","strokeWidth":1.2},"encoding":{
"x":{"field":"x0","type":"quantitative","scale":{"domain":[0,80],"nice":false,"zero":false},"axis":{"orient":"top","labels":false,"title":"Mean LRO","titleFontSize":18,"titleFontWeight":"bold","titleColor":"#000000","titlePadding":5,"values":[0,20,40,60,80],"minExtent":0,"maxExtent":0}},
"x2":{"field":"x1"},
"y":{"field":"y0","type":"quantitative","scale":{"domain":[-8,0.5],"nice":false,"zero":false},"axis":{"orient":"right","labels":false,"title":null,"values":[-8,-6,-4,-2,0],"minExtent":0,"maxExtent":0}}}},
{"data":{"name":"p1"},"mark":"line","encoding":{
"x":{"field":"a","type":"quantitative","scale":{"domain":[0,80],"nice":false,"zero":false},"axis":{"orient":"bottom","values":[0,20,40,60,80],"title":null}},
"y":{"field":"v","type":"quantitative","scale":{"domain":[-8,0.5],"nice":false,"zero":false},"axis":{"orient":"left","values":[-8,-6,-4,-2,0],"title":" ","minExtent":28,"maxExtent":28,"titlePadding":8,"labelPadding":9}},
"color":{"field":"s","type":"nominal","scale":{"domain":["NLD 1950","NLD 2009","SWE 1891","SWE 2010","JPN 1947","JPN 2009","Hadza","Ache","Hutterite"],"range":["#E31A1C","#4DA6E3","#5CE133","#F58220","#DDDD66","#A6562C","#F072E8","#9A9A9A","#9C56E6"]},"legend":{"orient":"none","legendX":33,"legendY":-67,"title":null,"columns":5,"direction":"horizontal","gridAlign":"all","symbolType":"stroke","symbolSize":1089,"symbolStrokeWidth":1.6,"labelFontSize":16,"labelFont":"Liberation Sans","labelColor":"#000000","labelOffset":7,"columnPadding":6,"rowPadding":-4,"clipHeight":15,"padding":2,"strokeColor":"#262626","fillColor":"#ffffff","labelLimit":200}},
"strokeDash":{"field":"s","type":"nominal","scale":{"domain":["NLD 1950","NLD 2009","SWE 1891","SWE 2010","JPN 1947","JPN 2009","Hadza","Ache","Hutterite"],"range":[[1,0],[1,0],[1,0],[1,0],[1,0],[1,0],[7,3,2,3],[1.5,2.5],[7,5]]},"legend":{"orient":"none","legendX":33,"legendY":-67,"title":null,"columns":5,"direction":"horizontal","gridAlign":"all","symbolType":"stroke","symbolSize":1089,"symbolStrokeWidth":1.6,"labelFontSize":16,"labelFont":"Liberation Sans","labelColor":"#000000","labelOffset":7,"columnPadding":6,"rowPadding":-4,"clipHeight":15,"padding":2,"strokeColor":"#262626","fillColor":"#ffffff","labelLimit":200}}}}
]},
{"width":316,"height":180,"layer":[
{"data":{"values":[{"x0":0,"x1":110,"y0":0}]},"mark":{"type":"rule","color":"#808080","strokeOpacity":0},"encoding":{
"x":{"field":"x0","type":"quantitative","scale":{"domain":[0,110],"nice":false,"zero":false},"axis":{"orient":"top","labels":false,"title":"Mean LRO","titleFontSize":18,"titleFontWeight":"bold","titleColor":"#000000","titlePadding":5,"values":[0,20,40,60,80,100],"minExtent":0,"maxExtent":0}},
"x2":{"field":"x1"},
"y":{"field":"y0","type":"quantitative","scale":{"domain":[0,1.1],"nice":false,"zero":false},"axis":{"orient":"right","labels":false,"title":null,"values":[0,0.5,1],"minExtent":0,"maxExtent":0}}}},
{"data":{"name":"p2"},"mark":"line","encoding":{
"x":{"field":"a","type":"quantitative","scale":{"domain":[0,110],"nice":false,"zero":false},"axis":{"orient":"bottom","values":[0,20,40,60,80,100],"title":null}},
"y":{"field":"v","type":"quantitative","scale":{"domain":[0,1.1],"nice":false,"zero":false},"axis":{"orient":"left","values":[0,0.5,1],"title":" ","minExtent":20,"maxExtent":20,"titlePadding":9,"labelPadding":9}},
"color":{"field":"s","type":"nominal"},
"strokeDash":{"field":"s","type":"nominal"}}}
]},
{"width":315,"height":180,"layer":[
{"data":{"values":[{"x0":0,"x1":80,"y0":0}]},"mark":{"type":"rule","color":"#1a1a1a","strokeWidth":1.2},"encoding":{
"x":{"field":"x0","type":"quantitative","scale":{"domain":[0,80],"nice":false,"zero":false},"axis":{"orient":"top","labels":false,"title":"Variance","titleFontSize":18,"titleFontWeight":"bold","titleColor":"#000000","titlePadding":5,"values":[0,20,40,60,80],"minExtent":0,"maxExtent":0}},
"x2":{"field":"x1"},
"y":{"field":"y0","type":"quantitative","scale":{"domain":[-10,50],"nice":false,"zero":false},"axis":{"orient":"right","labels":false,"title":null,"values":[0,20,40],"minExtent":0,"maxExtent":0}}}},
{"data":{"name":"p3"},"mark":"line","encoding":{
"x":{"field":"a","type":"quantitative","scale":{"domain":[0,80],"nice":false,"zero":false},"axis":{"orient":"bottom","values":[0,20,40,60,80],"title":null}},
"y":{"field":"v","type":"quantitative","scale":{"domain":[-10,50],"nice":false,"zero":false},"axis":{"orient":"left","values":[0,20,40],"title":"Sensitivity to mortality","titleY":99,"minExtent":28,"maxExtent":28,"titlePadding":8,"labelPadding":7}},
"color":{"field":"s","type":"nominal"},
"strokeDash":{"field":"s","type":"nominal"}}}
]},
{"width":316,"height":180,"layer":[
{"data":{"values":[{"x0":0,"x1":110,"y0":0}]},"mark":{"type":"rule","color":"#808080","strokeOpacity":0},"encoding":{
"x":{"field":"x0","type":"quantitative","scale":{"domain":[0,110],"nice":false,"zero":false},"axis":{"orient":"top","labels":false,"title":"Variance","titleFontSize":18,"titleFontWeight":"bold","titleColor":"#000000","titlePadding":5,"values":[0,20,40,60,80,100],"minExtent":0,"maxExtent":0}},
"x2":{"field":"x1"},
"y":{"field":"y0","type":"quantitative","scale":{"domain":[0,4],"nice":false,"zero":false},"axis":{"orient":"right","labels":false,"title":null,"values":[0,1,2,3,4],"minExtent":0,"maxExtent":0}}}},
{"data":{"name":"p4"},"mark":"line","encoding":{
"x":{"field":"a","type":"quantitative","scale":{"domain":[0,110],"nice":false,"zero":false},"axis":{"orient":"bottom","values":[0,20,40,60,80,100],"title":null}},
"y":{"field":"v","type":"quantitative","scale":{"domain":[0,4],"nice":false,"zero":false},"axis":{"orient":"left","values":[0,1,2,3,4],"title":"Sensitivity to fertility","titleY":97,"minExtent":20,"maxExtent":20,"titlePadding":9,"labelPadding":9}},
"color":{"field":"s","type":"nominal"},
"strokeDash":{"field":"s","type":"nominal"}}}
]},
{"width":315,"height":180,"layer":[
{"data":{"values":[{"x0":0,"x1":80,"y0":0}]},"mark":{"type":"rule","color":"#808080","strokeWidth":1.2},"encoding":{
"x":{"field":"x0","type":"quantitative","scale":{"domain":[0,80],"nice":false,"zero":false},"axis":{"orient":"top","labels":false,"title":"Crow's Index","titleFontSize":18,"titleFontWeight":"bold","titleColor":"#000000","titlePadding":5,"values":[0,20,40,60,80],"minExtent":0,"maxExtent":0}},
"x2":{"field":"x1"},
"y":{"field":"y0","type":"quantitative","scale":{"domain":[-0.2,2.6],"nice":false,"zero":false},"axis":{"orient":"right","labels":false,"title":null,"values":[0,1,2],"minExtent":0,"maxExtent":0}}}},
{"data":{"name":"p5"},"mark":"line","encoding":{
"x":{"field":"a","type":"quantitative","scale":{"domain":[0,80],"nice":false,"zero":false},"axis":{"orient":"bottom","values":[0,20,40,60,80],"title":"Age","titlePadding":9}},
"y":{"field":"v","type":"quantitative","scale":{"domain":[-0.2,2.6],"nice":false,"zero":false},"axis":{"orient":"left","values":[0,1,2],"title":" ","minExtent":28,"maxExtent":28,"titlePadding":8,"labelPadding":7}},
"color":{"field":"s","type":"nominal"},
"strokeDash":{"field":"s","type":"nominal"}}}
]},
{"width":316,"height":180,"layer":[
{"data":{"values":[{"x0":0,"x1":110,"y0":0}]},"mark":{"type":"rule","color":"#1a1a1a","strokeWidth":1.2},"encoding":{
"x":{"field":"x0","type":"quantitative","scale":{"domain":[0,110],"nice":false,"zero":false},"axis":{"orient":"top","labels":false,"title":"Crow's Index","titleFontSize":18,"titleFontWeight":"bold","titleColor":"#000000","titlePadding":5,"values":[0,20,40,60,80,100],"minExtent":0,"maxExtent":0}},
"x2":{"field":"x1"},
"y":{"field":"y0","type":"quantitative","scale":{"domain":[-0.6,0.05],"nice":false,"zero":false},"axis":{"orient":"right","labels":false,"title":null,"values":[-0.6,-0.4,-0.2,0],"minExtent":0,"maxExtent":0}}}},
{"data":{"name":"p6"},"mark":"line","encoding":{
"x":{"field":"a","type":"quantitative","scale":{"domain":[0,110],"nice":false,"zero":false},"axis":{"orient":"bottom","values":[0,20,40,60,80,100],"title":"Age","titlePadding":9}},
"y":{"field":"v","type":"quantitative","scale":{"domain":[-0.6,0.05],"nice":false,"zero":false},"axis":{"orient":"left","values":[-0.6,-0.4,-0.2,0],"title":" ","minExtent":20,"maxExtent":20,"titlePadding":9,"labelPadding":9}},
"color":{"field":"s","type":"nominal"},
"strokeDash":{"field":"s","type":"nominal"}}}
]}
]
}
